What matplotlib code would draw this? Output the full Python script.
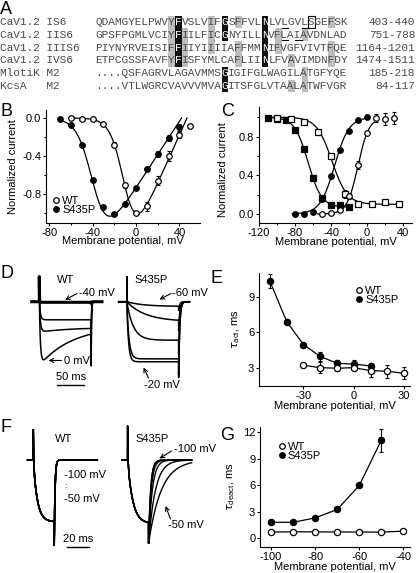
import numpy as np
import matplotlib
matplotlib.use("Agg")
import matplotlib.pyplot as plt
import matplotlib.patches as patches
from matplotlib.lines import Line2D

plt.rcParams['font.family'] = ['Liberation Sans', 'DejaVu Sans']
plt.rcParams['axes.unicode_minus'] = False
plt.rcParams['mathtext.fontset'] = 'dejavusans'

W, H = 416, 573

# ---------------- A: alignment ----------------
seq_names = ["CaV1.2 IS6", "CaV1.2 IIS6", "CaV1.2 IIIS6", "CaV1.2 IVS6",
             "MlotiK M2", "KcsA   M2"]
seq_rows = ["QDAMGYELPWVYFVSLVIFGSFFVLNLVLGVLSGEFSK",
            "GPSFPGMLVCIYFIILFICGNYILLNVFLAIAVDNLAD",
            "PIYNYRVEISIFFIIYIIIIAFFMMNIFVGFVIVTFQE",
            "ETPCGSSFAVFYFISFYMLCAFLIINLFVAVIMDNFDY",
            "....QSFAGRVLAGAVMMSGIGIFGLWAGILATGFYQE",
            "....VTLWGRCVAVVVMVAGITSFGLVTAALATWFVGR"]
seq_ranges = ["403-440", "751-788", "1164-1201", "1474-1511", "185-218", "84-117"]
gray_cells = [(0, 11), (1, 11), (2, 11), (3, 11), (1, 13), (2, 13), (3, 13),
              (0, 17), (1, 17), (2, 17), (0, 21), (2, 21), (3, 21),
              (1, 27), (2, 27), (3, 29), (5, 29), (1, 31), (4, 31), (5, 31),
              (0, 35), (2, 35), (3, 35)]
black_cells = [(0, 12), (1, 12), (2, 12), (3, 12), (0, 19), (1, 19), (4, 19), (5, 19),
               (0, 25), (1, 25), (2, 25), (3, 25)]
underline_cells = [(0, 28), (0, 31), (1, 28), (1, 30)]
boxed_cells = [(0, 32)]

# ---------------- B: I-V ----------------
b_volt_wt = [-60, -50, -40, -30, -20, -10, 0, 10, 20, 30, 40, 50]
b_curr_wt = [0.0, -0.01, -0.01, -0.06, -0.28, -0.71, -1.0, -0.93, -0.66, -0.40, -0.18, -0.08]
b_err_wt = [0, 0, 0, 0, 0.03, 0.03, 0.02, 0.05, 0.05, 0.05, 0.03, 0.02]
b_volt_mut = [-70, -60, -50, -40, -30, -20, -10, 0, 10, 20, 30, 40]
b_curr_mut = [-0.01, -0.07, -0.28, -0.65, -0.94, -1.01, -0.91, -0.74, -0.54, -0.38, -0.21, -0.10]
b_err_mut = [0, 0, 0, 0.02, 0.02, 0.01, 0.02, 0.02, 0.02, 0.03, 0.03, 0.04]
# fit: g, Erev, V1/2, k
b_fit_wt = [0.0255, 47, -10, 6.1]
b_fit_mut = [0.0175, 42, -39, 7.0]

# ---------------- C: activation / inactivation ----------------
c_act_v_wt = [-50, -40, -30, -20, -10, 0, 10, 20, 30]
c_act_wt = [0.0, 0.01, 0.04, 0.19, 0.51, 0.84, 0.99, 0.98, 0.99]
c_act_err_wt = [0, 0, 0, 0.03, 0.04, 0.02, 0.04, 0.06, 0.06]
c_act_v_mut = [-80, -70, -60, -50, -40, -30, -20, -10, 0]
c_act_mut = [0.0, 0.0, 0.02, 0.16, 0.39, 0.66, 0.86, 0.97, 1.0]
c_inact_v_wt = [-100, -85, -70, -55, -40, -25, -10, 5, 20, 35]
c_inact_wt = [0.99, 0.98, 0.95, 0.85, 0.60, 0.21, 0.10, 0.10, 0.12, 0.10]
c_inact_err_wt = [0, 0, 0, 0, 0.02, 0.04, 0.01, 0.01, 0.01, 0.01]
c_inact_v_mut = [-110, -100, -90, -80, -70, -60, -50, -40, -30, -20]
c_inact_mut = [0.99, 0.98, 0.97, 0.87, 0.67, 0.37, 0.17, 0.09, 0.09, 0.07]
c_act_fit_wt = [-10, 6.1]
c_act_fit_mut = [-36, 8.0]
c_inact_fit_wt = [-39, 8.5, 0.10]
c_inact_fit_mut = [-65.5, 7.5, 0.07]

# ---------------- D: activation traces ----------------
d_pulse = 96
d_wt_amp = [0.01, 0.31, 0.52, 1.1]
d_wt_tau_act = [2, 2, 2, 2]
d_wt_keep = [1.0, 1.0, 0.85, 0.38]
d_wt_tail = [-0.03, -0.5, -0.75, -1.1]
d_wt_lw = [2.2, 1.1, 1.1, 1.1]
d_mut_amp = [0.08, 0.34, 0.66, 0.98, 1.03]
d_mut_tau_act = [30, 35, 12, 4, 3]
d_mut_tail = [-0.15, -0.5, -0.9, -1.25, -1.3]
d_tau_inact = 60
d_cap = 0.43

# ---------------- E: tau act ----------------
e_volt_wt = [-30, -20, -10, 0, 10, 20, 30]
e_tau_wt = [3.2, 3.0, 2.95, 3.0, 2.75, 2.7, 2.52]
e_err_wt = [0.1, 0.45, 0.2, 0.2, 0.55, 0.55, 0.5]
e_volt_mut = [-50, -40, -30, -20, -10, 0, 10]
e_tau_mut = [10.3, 6.9, 4.95, 3.95, 3.37, 3.3, 3.15]
e_err_mut = [0.6, 0.25, 0.15, 0.4, 0.3, 0.35, 0.25]

# ---------------- G: tau deact ----------------
g_volt_wt = [-100, -90, -80, -70, -60, -50, -40]
g_tau_wt = [0.7, 0.72, 0.72, 0.7, 0.7, 0.68, 0.8]
g_volt_mut = [-100, -90, -80, -70, -60, -50]
g_tau_mut = [1.8, 1.8, 2.3, 3.25, 5.97, 11.1]
g_err_mut = [0.15, 0.1, 0.15, 0.2, 0.2, 1.3]

# ---------------- F: tail traces ----------------
f_pulse = 18.5
f_wt = dict(amp=1.0, tau_act=3.5, cap=0.49, tail=-1.38)
f_mut = dict(amp=1.03, tau_act=4.5, cap=0.55, tail=-1.35)


def px_rect(l, t, r, b):
    return [l / W, 1 - b / H, (r - l) / W, (b - t) / H]


def fpx(x, y):
    return (x, H - y)


def style_ax(ax):
    for s in ['top', 'right']:
        ax.spines[s].set_visible(False)
    for s in ['left', 'bottom']:
        ax.spines[s].set_linewidth(0.8)
    ax.tick_params(which='major', direction='out', length=2.2, width=0.8, labelsize=8, pad=1.2)
    ax.tick_params(which='minor', direction='out', length=1.3, width=0.8)


def iv_fit(v, g, erev, vh, k):
    return g * (v - erev) / (1 + np.exp((vh - v) / k))


def pulse_trace(amp, tau_act, keep, tau_inact, cap, tail_amp, tail_tau,
                t_pre, t_pulse, t_post, dt=0.05):
    t_a = np.arange(-t_pre, 0, dt)
    i_a = np.zeros_like(t_a)
    t_b = np.arange(0, t_pulse, dt)
    i_b = (-amp * (1 - np.exp(-t_b / tau_act)) * (keep + (1 - keep) * np.exp(-t_b / tau_inact))
           + cap * np.exp(-t_b / 0.3))
    t_c = np.arange(0, t_post + dt, dt)
    i_c = tail_amp * np.exp(-t_c / tail_tau)
    return np.concatenate([t_a, t_b, t_c + t_pulse]), np.concatenate([i_a, i_b, i_c])


fig = plt.figure(figsize=(W / 100, H / 100), dpi=100)

# panel letters
for letter, x, y in [('A', 0, 13.5), ('B', 0, 116), ('C', 221, 115.5), ('D', 0, 278.5),
                     ('E', 211, 283), ('F', 0, 432), ('G', 220, 440)]:
    fig.text(x / W, 1 - y / H, letter, fontsize=13, va='baseline', ha='left')

# ---- A
axA = fig.add_axes(px_rect(0, 15, W, 93))
axA.set_xlim(0, W)
axA.set_ylim(93, 15)
axA.axis('off')
mono = 'Liberation Mono'
cw = 8 * 100 / 72 * 0.6
x0 = 95
row_y0, row_dy = 22, 12.8
txt_col = '#4a4a4a'
for r, c in gray_cells:
    axA.add_patch(patches.Rectangle((x0 + c * cw, row_y0 + r * row_dy - row_dy / 2), cw, row_dy,
                                    facecolor='#bdbdbd', edgecolor='none', zorder=0))
for r, c in black_cells:
    axA.add_patch(patches.Rectangle((x0 + c * cw, row_y0 + r * row_dy - row_dy / 2), cw, row_dy,
                                    facecolor='#101010', edgecolor='none', zorder=0))
for r, c in boxed_cells:
    axA.add_patch(patches.Rectangle((x0 + c * cw, row_y0 + r * row_dy - row_dy / 2 + 0.5), cw, row_dy - 1,
                                    facecolor='none', edgecolor='black', lw=0.8, zorder=2))
for r, c in underline_cells:
    yy = row_y0 + r * row_dy + 5.5
    axA.plot([x0 + c * cw, x0 + (c + 1) * cw], [yy, yy], color='black', lw=0.8)
for i, (name, seq, rng) in enumerate(zip(seq_names, seq_rows, seq_ranges)):
    y = row_y0 + i * row_dy
    axA.text(0, y, name, family=mono, fontsize=8, color=txt_col, va='center', ha='left')
    axA.text(W - 1, y, rng, family=mono, fontsize=8, color=txt_col, va='center', ha='right')
    # split the row into runs so white letters on black cells do not overlap
    cuts = sorted(c for r, c in black_cells if r == i)
    start = 0
    for c in cuts + [len(seq)]:
        if c > start:
            axA.text(x0 + start * cw, y, seq[start:c], family=mono, fontsize=8,
                     color=txt_col, va='center', ha='left', zorder=2)
        if c < len(seq):
            axA.text(x0 + c * cw, y, seq[c], family=mono, fontsize=8,
                     color='white', va='center', ha='left', zorder=3)
        start = c + 1

open_kw = dict(marker='o', ms=4, mfc='white', mec='black', mew=0.9, ls='none', zorder=4)
fill_kw = dict(marker='o', ms=4, mfc='black', mec='black', mew=0.9, ls='none', zorder=4)
err_kw = dict(fmt='none', ecolor='black', elinewidth=0.8, capsize=1.5, capthick=0.8, zorder=3)
leg_kw = dict(frameon=False, fontsize=8, handlelength=0.6, handletextpad=0.25,
              labelspacing=-0.1, borderpad=0, borderaxespad=0, loc='upper left')
leg_handles = [Line2D([], [], **open_kw), Line2D([], [], **fill_kw)]

# ---- B
axB = fig.add_axes(px_rect(46, 110, 200, 223))
style_ax(axB)
v = np.linspace(-62, b_fit_wt[1], 200)
axB.plot(v, iv_fit(v, *b_fit_wt), color='black', lw=0.9)
v = np.linspace(-72, b_fit_mut[1], 200)
axB.plot(v, iv_fit(v, *b_fit_mut), color='black', lw=0.9)
axB.errorbar(b_volt_wt, b_curr_wt, yerr=b_err_wt, **err_kw)
axB.errorbar(b_volt_mut, b_curr_mut, yerr=b_err_mut, **err_kw)
axB.plot(b_volt_mut, b_curr_mut, **fill_kw)
axB.plot(b_volt_wt, b_curr_wt, **open_kw)
axB.set_xlim(-83, 59)
axB.set_ylim(-1.105, 0.084)
axB.set_xticks([-80, -40, 0, 40])
axB.set_xticks([-60, -20, 20], minor=True)
axB.set_yticks([0, -0.4, -0.8])
axB.set_yticklabels(['0.0', '-0.4', '-0.8'])
axB.set_yticks([-0.2, -0.6, -1.0], minor=True)
axB.set_xlabel('Membrane potential, mV', fontsize=8, labelpad=-1)
axB.set_ylabel('Normalized current', fontsize=8, labelpad=3)
axB.legend(leg_handles, ['WT', 'S435P'], bbox_to_anchor=(52.7 / W, 1 - 196 / H),
           bbox_transform=fig.transFigure, **leg_kw)

# ---- C
axC = fig.add_axes(px_rect(259, 107, 412, 223.3))
style_ax(axC)
v = np.linspace(-112, 38, 200)
axC.plot(v, c_inact_fit_wt[2] + (1 - c_inact_fit_wt[2]) / (1 + np.exp((v - c_inact_fit_wt[0]) / c_inact_fit_wt[1])),
         color='black', lw=0.9)
v = np.linspace(-112, -18, 200)
axC.plot(v, c_inact_fit_mut[2] + (1 - c_inact_fit_mut[2]) / (1 + np.exp((v - c_inact_fit_mut[0]) / c_inact_fit_mut[1])),
         color='black', lw=0.9)
v = np.linspace(-55, 8, 200)
axC.plot(v, 1 / (1 + np.exp((c_act_fit_wt[0] - v) / c_act_fit_wt[1])), color='black', lw=0.9)
v = np.linspace(-83, 0, 200)
axC.plot(v, 1 / (1 + np.exp((c_act_fit_mut[0] - v) / c_act_fit_mut[1])), color='black', lw=0.9)
axC.errorbar(c_act_v_wt, c_act_wt, yerr=c_act_err_wt, **err_kw)
axC.errorbar(c_inact_v_wt, c_inact_wt, yerr=c_inact_err_wt, **err_kw)
sq_fill = dict(fill_kw, marker='s', ms=4)
sq_open = dict(open_kw, marker='s', ms=4)
axC.plot(c_inact_v_mut, c_inact_mut, **sq_fill)
axC.plot(c_inact_v_wt, c_inact_wt, **sq_open)
axC.plot(c_act_v_mut, c_act_mut, **fill_kw)
axC.plot(c_act_v_wt, c_act_wt, **open_kw)
axC.set_xlim(-120, 50)
axC.set_ylim(-0.096, 1.106)
axC.set_xticks([-120, -80, -40, 0, 40])
axC.set_xticks([-100, -60, -20, 20], minor=True)
axC.set_yticks([0, 0.4, 0.8])
axC.set_yticklabels(['0.0', '0.4', '0.8'])
axC.set_yticks([0.2, 0.6, 1.0], minor=True)
axC.set_xlabel('Membrane potential, mV', fontsize=8, labelpad=-1)
axC.set_ylabel('Normalized current', fontsize=8, labelpad=3)
axC.yaxis.set_label_coords(-0.2, 0.46)

# ---- D
axD = fig.add_axes(px_rect(25, 265, 205, 395))
axD.axis('off')
axD.set_xlim(-26.5, 306.8)
axD.set_ylim(-1.6, 0.63)
d_mut_offset = 162
for a, ta, k, tl, lw in zip(d_wt_amp, d_wt_tau_act, d_wt_keep, d_wt_tail, d_wt_lw):
    t, i = pulse_trace(a, ta, k, d_tau_inact, d_cap, tl, 0.7, 14, d_pulse, 20)
    axD.plot(t, i, color='black', lw=lw)
for a, ta, tl in zip(d_mut_amp, d_mut_tau_act, d_mut_tail):
    t, i = pulse_trace(a, ta, 1.0, d_tau_inact, d_cap, tl, 2.0, 15, d_pulse, 20)
    axD.plot(t + d_mut_offset, i, color='black', lw=1.1)
axD.plot([33.3, 33.3 + 50], [-1.43, -1.43], color='black', lw=1.0)
fig.text(70.7 / W, 1 - 377.5 / H, '50 ms', fontsize=8, ha='center', va='center')
fig.text(66 / W, 1 - 280 / H, 'WT', fontsize=8, ha='center', va='center')
fig.text(150.7 / W, 1 - 280 / H, 'S435P', fontsize=8, ha='center', va='center')
fig.text(79 / W, 1 - 293.5 / H, '-40 mV', fontsize=8, ha='left', va='center')
fig.text(63.5 / W, 1 - 360.5 / H, '0 mV', fontsize=8, ha='left', va='center')
fig.text(172.5 / W, 1 - 293 / H, '-60 mV', fontsize=8, ha='left', va='center')
fig.text(161.5 / W, 1 - 385 / H, '-20 mV', fontsize=8, ha='center', va='center')
arrow_kw = dict(arrowstyle='->', lw=0.8, color='black', shrinkA=0, shrinkB=0, mutation_scale=7)
for tail, head in [((77, 293.5), (65, 300)), ((61.5, 360.5), (48.5, 360.5)),
                   ((171, 293.5), (159.5, 299.5)), ((148.5, 378), (143.5, 367.5))]:
    axD.annotate('', xy=fpx(*head), xytext=fpx(*tail), xycoords='figure pixels',
                 textcoords='figure pixels', arrowprops=arrow_kw)

# ---- E
axE = fig.add_axes(px_rect(259, 273, 410, 386))
style_ax(axE)
axE.plot(e_volt_mut, e_tau_mut, color='black', lw=0.9)
axE.plot(e_volt_wt, e_tau_wt, color='black', lw=0.9)
axE.errorbar(e_volt_mut, e_tau_mut, yerr=e_err_mut, **err_kw)
axE.errorbar(e_volt_wt, e_tau_wt, yerr=e_err_wt, **err_kw)
axE.plot(e_volt_mut, e_tau_mut, **dict(fill_kw, ms=4.5))
axE.plot(e_volt_wt, e_tau_wt, **dict(open_kw, ms=4.5))
axE.set_xlim(-56.5, 33.5)
axE.set_ylim(1.45, 11)
axE.set_xticks([-30, 0, 30])
axE.set_yticks([3, 6, 9])
axE.set_xlabel('Membrane potential, mV', fontsize=8, labelpad=0)
axE.set_ylabel(r'$\tau_{\mathregular{act}}$, ms', fontsize=8, labelpad=4)
axE.legend(leg_handles, ['WT', 'S435P'], bbox_to_anchor=(355.7 / W, 1 - 285.7 / H),
           bbox_transform=fig.transFigure, **leg_kw)

# ---- F
axF = fig.add_axes(px_rect(25, 415, 205, 560))
axF.axis('off')
axF.set_xlim(-7.3, 151.6)
axF.set_ylim(-1.62, 0.73)
f_mut_offset = 83.3
for tau in g_tau_wt[:6]:
    t, i = pulse_trace(f_wt['amp'], f_wt['tau_act'], 1.0, 100, f_wt['cap'], f_wt['tail'], tau, 5, f_pulse, 38)
    axF.plot(t, i, color='black', lw=1.1)
for tau in g_tau_mut:
    t, i = pulse_trace(f_mut['amp'], f_mut['tau_act'], 1.0, 100, f_mut['cap'], f_mut['tail'], tau, 5, f_pulse, 38)
    axF.plot(t + f_mut_offset, i, color='black', lw=1.0)
axF.plot([29.5, 29.5 + 20], [-1.405, -1.405], color='black', lw=1.0)
fig.text(78 / W, 1 - 538.5 / H, '20 ms', fontsize=8, ha='center', va='center')
fig.text(63.5 / W, 1 - 438.5 / H, 'WT', fontsize=8, ha='center', va='center')
fig.text(151.7 / W, 1 - 438.5 / H, 'S435P', fontsize=8, ha='center', va='center')
fig.text(63.5 / W, 1 - 475.5 / H, '-100 mV', fontsize=8, ha='left', va='center')
fig.text(64.5 / W, 1 - 486.5 / H, ':', fontsize=6, ha='left', va='center')
fig.text(63.5 / W, 1 - 498.5 / H, '-50 mV', fontsize=8, ha='left', va='center')
fig.text(173.5 / W, 1 - 448.5 / H, '-100 mV', fontsize=8, ha='left', va='center')
fig.text(168.5 / W, 1 - 525.5 / H, '-50 mV', fontsize=8, ha='left', va='center')
for tail, head in [((171.5, 451), (159.5, 458.5)), ((170.5, 519), (165.5, 506))]:
    axF.annotate('', xy=fpx(*head), xytext=fpx(*tail), xycoords='figure pixels',
                 textcoords='figure pixels', arrowprops=arrow_kw)

# ---- G
axG = fig.add_axes(px_rect(260, 427, 410, 547))
style_ax(axG)
axG.plot(g_volt_mut, g_tau_mut, color='black', lw=0.9)
axG.plot(g_volt_wt, g_tau_wt, color='black', lw=0.9)
axG.errorbar(g_volt_mut, g_tau_mut, yerr=g_err_mut, **err_kw)
axG.plot(g_volt_mut, g_tau_mut, **dict(fill_kw, ms=4.5))
axG.plot(g_volt_wt, g_tau_wt, **dict(open_kw, ms=4.5))
axG.set_xlim(-105, -37)
axG.set_ylim(-1.0, 12.6)
axG.set_xticks([-100, -80, -60, -40])
axG.set_yticks([0, 3, 6, 9, 12])
axG.set_xlabel('Membrane potential, mV', fontsize=8, labelpad=0.5)
axG.set_ylabel(r'$\tau_{\mathregular{deact}}$, ms', fontsize=8, labelpad=4)
axG.legend(leg_handles, ['WT', 'S435P'], bbox_to_anchor=(278.4 / W, 1 - 441.7 / H),
           bbox_transform=fig.transFigure, **leg_kw)

fig.savefig('out.png', dpi=100)
plt.close(fig)
